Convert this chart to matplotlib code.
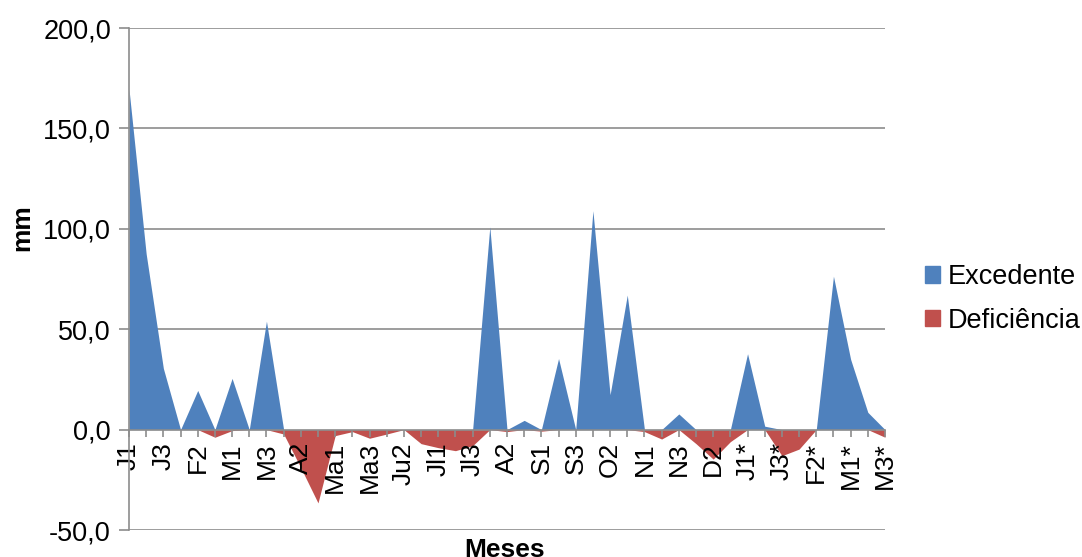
import matplotlib
matplotlib.use("Agg")
import matplotlib.pyplot as plt
from matplotlib.patches import Patch
import numpy as np

plt.rcParams['font.family'] = ['Liberation Sans', 'DejaVu Sans']

meses = ['J1', 'J2', 'J3', 'F1', 'F2', 'F3', 'M1', 'M2', 'M3',
         'A1', 'A2', 'A3', 'Ma1', 'Ma2', 'Ma3', 'Ju1', 'Ju2', 'Ju3',
         'Jl1', 'Jl2', 'Jl3', 'A1', 'A2', 'A3', 'S1', 'S2', 'S3',
         'O1', 'O2', 'O3', 'N1', 'N2', 'N3', 'D1', 'D2', 'D3',
         'J1*', 'J2*', 'J3*', 'F1*', 'F2*', 'F3*', 'M1*', 'M2*', 'M3*']

excedente = [169.5, 87.5, 30.5, 0, 19.5, 0, 25.5, 0, 54,
             0, 0, 0, 0, 0, 0, 0, 0, 0,
             0, 0, 0, 101, 0, 4.6, 0, 35.4, 0,
             109, 17.4, 67, 0, 0, 7.8, 0, 0, 0,
             37.8, 1.7, 0, 0, 0, 76.4, 35, 8.6, 0]

deficiencia = [0, 0, 0, 0, 0, -3.8, -0.5, 0, 0,
               -2.2, -19, -36.5, -3, -1, -4.3, -2.2, 0, -7,
               -9, -10.5, -8, 0, -1, 0, -0.8, 0, 0,
               0, 0, 0, -1, -4.7, 0, -7, -14.7, -6,
               0, 0, -13, -9.7, 0, 0, 0, 0, -3.8]

y_ticks = [-50, 0, 50, 100, 150, 200]
y_labels = ['-50,0', '0,0', '50,0', '100,0', '150,0', '200,0']

azul = '#4F81BD'
vermelho = '#C0504D'
cinza = '#8C8C8C'

W, H = 1082, 557
fig = plt.figure(figsize=(W / 100, H / 100), dpi=100)
ax = fig.add_axes([129 / W, (H - 530) / H, (885 - 129) / W, (530 - 28) / H])

x = np.arange(len(meses))
ax.fill_between(x, 0, excedente, color=azul, linewidth=0)
ax.fill_between(x, 0, deficiencia, color=vermelho, linewidth=0)

# eixo das categorias cruza em zero (como no Excel)
for s in ['top', 'right']:
    ax.spines[s].set_visible(False)
ax.spines['bottom'].set_position(('data', 0))
ax.spines['bottom'].set_color(cinza)
ax.spines['bottom'].set_linewidth(1.2)
ax.spines['bottom'].set_zorder(3)
ax.spines['left'].set_color(cinza)
ax.spines['left'].set_linewidth(1.2)

ax.set_xlim(0, len(meses) - 1)
ax.set_ylim(-50, 200)

ax.set_yticks(y_ticks)
ax.set_yticklabels(y_labels, fontsize=19.5)
for y in [-50, 50, 100, 150, 200]:
    ax.axhline(y, color=cinza, linewidth=1.2, zorder=0)

ax.set_xticks(x)
ax.set_xticklabels([m if i % 2 == 0 else '' for i, m in enumerate(meses)],
                   rotation=90, fontsize=19)

ax.tick_params(axis='x', direction='out', length=5, width=1.2, color=cinza, pad=4)
ax.tick_params(axis='y', direction='out', length=7, width=1.2, color=cinza, pad=6)

fig.text(22 / W, 1 - 228 / H, 'mm', rotation=90, fontsize=19, fontweight='bold',
         ha='center', va='center')
fig.text(505 / W, 1 - 557 / H, 'Meses', fontsize=19, fontweight='bold',
         ha='center', va='baseline')

handles = [Patch(color=azul), Patch(color=vermelho)]
fig.legend(handles, ['Excedente', 'Deficiência'], loc='center left',
           bbox_to_anchor=(925 / W, 1 - 299 / H), frameon=False, fontsize=19.5,
           handlelength=0.55, handleheight=0.55, handletextpad=0.3,
           labelspacing=0.65, borderpad=0, borderaxespad=0)

fig.savefig('out.png', dpi=100)
